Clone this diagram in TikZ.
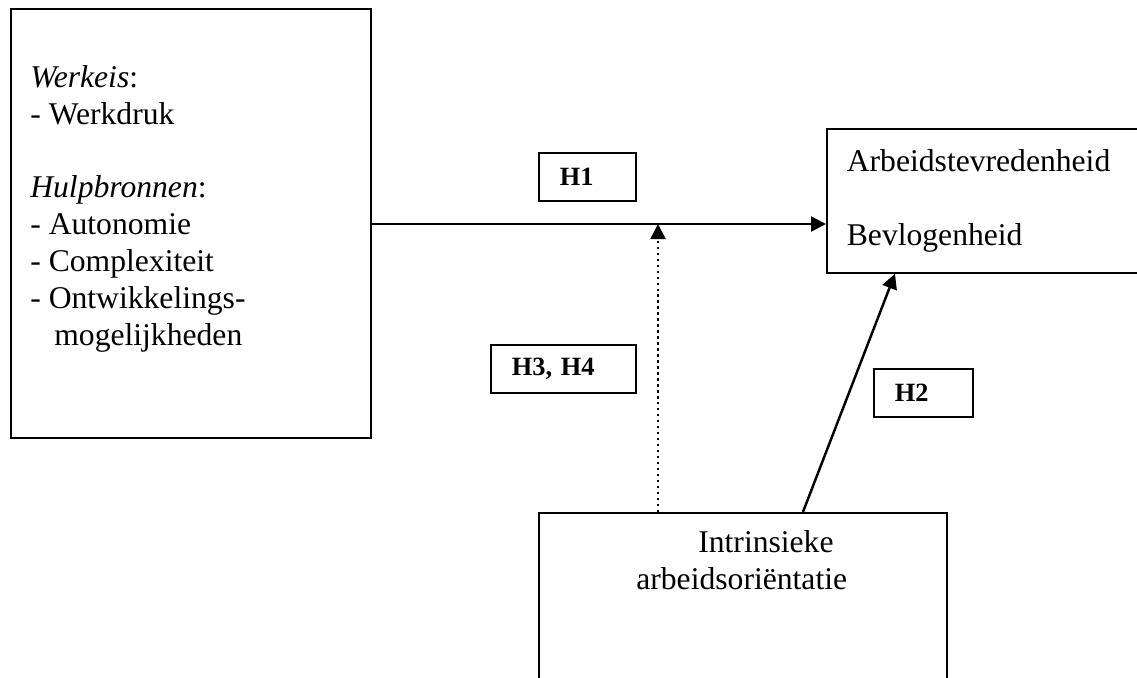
\documentclass[tikz,border=0pt]{standalone}
\usepackage{fontspec}
\setmainfont{Liberation Serif}
\usetikzlibrary{positioning,arrows.meta}

\begin{document}
\begin{tikzpicture}[
    x=0.02cm, y=-0.02cm,
    % --- box styles ---
    box/.style={draw, line width=1pt, anchor=north west, align=left,
                font=\fontsize{18}{21}\selectfont, inner xsep=0.4cm, inner ysep=0pt},
    txt/.style={anchor=north west, align=left, inner sep=0pt,
                font=\fontsize{18}{21}\selectfont},
    hyp/.style={draw, line width=1pt, anchor=north west, align=left,
                font=\fontsize{15}{18}\selectfont\bfseries,
                minimum height=0.96cm, inner xsep=0.42cm, inner ysep=0pt},
    % --- arrow styles ---
    arr/.style={-{Triangle[length=0.3cm,width=0.3cm]}, line width=1.4pt},
    darr/.style={-{Triangle[length=0.3cm,width=0.3cm]}, line width=1.4pt,
                 dash pattern=on 1.4pt off 2pt},
]

%% frame of the picture (1137 x 677 px)
\useasboundingbox (0,0) rectangle (1137,677);

%% ---- JOB CHARACTERISTICS ----
\node[box, minimum width=7.2cm, minimum height=8.58cm] (werk) at (10,8) {};
\node[txt] (werktxt) at ([shift={(20,57)}]werk.north west)
    {\textit{Werkeis}:\\
     - Werkdruk\\[21pt]
     \textit{Hulpbronnen}:\\
     - Autonomie\\
     - Complexiteit\\
     - Ontwikkelings-\\
     \hspace*{0.48cm}mogelijkheden};

%% ---- OUTCOMES (runs off the right edge) ----
\node[box, minimum width=6.6cm, minimum height=2.88cm, text width=5.8cm] (tevr) at (826,128)
    {Arbeidstevredenheid\\[21pt]
     Bevlogenheid};

%% ---- MODERATOR (runs off the bottom edge) ----
\node[box, minimum width=8.16cm, minimum height=4cm] (intr) at (538,512) {};
\node[txt] (intrtxt) at ([shift={(98,18)}]intr.north west)
    {\hspace*{1.24cm}Intrinsieke\\arbeidsori\"entatie};

%% ---- HYPOTHESIS LABELS ----
\node[hyp, text width=1.1cm]  (h1)  at (538,152) {H1};
\node[hyp, text width=2.06cm] (h34) at (490,344) {H3, H4};
\node[hyp, text width=1.14cm] (h2)  at (873,368) {H2};

%% =====================================================================
%%  ARROWS
%% =====================================================================
\coordinate (mod) at (658,224);

%% main effect
\draw[arr] (werk.east |- mod) -- (tevr.west |- mod);
%% moderation (dotted)
\draw[darr] (intr.north -| mod) -- (mod);
%% direct effect
\draw[arr] ([xshift=5.3cm]intr.north west) -- ([xshift=1.38cm]tevr.south west);

\end{tikzpicture}
\end{document}
